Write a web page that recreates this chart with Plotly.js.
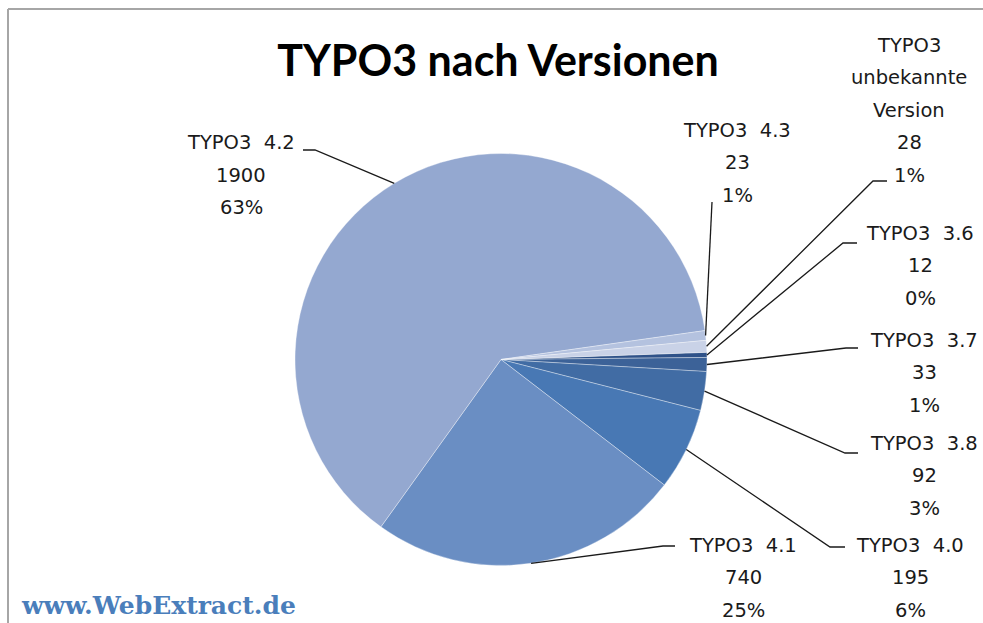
<!DOCTYPE html>
<html>
<head>
<meta charset="utf-8">
<script src="https://cdn.plot.ly/plotly-3.0.1.min.js"></script>
<style>html,body{margin:0;padding:0;background:#fff;} #chart{width:983px;height:623px;}</style>
</head>
<body>
<div id="chart"></div>
<script>
// ---------- DATA ----------
const categories = ['TYPO3 3.6', 'TYPO3 3.7', 'TYPO3 3.8', 'TYPO3 4.0', 'TYPO3 4.1', 'TYPO3 4.2', 'TYPO3 4.3', 'TYPO3 unbekannte Version'];
const values = [12, 33, 92, 195, 740, 1900, 23, 28];
const percentLabels = ['0%', '1%', '3%', '6%', '25%', '63%', '1%', '1%'];
const nameLines = [
  ['TYPO3 3.6'], ['TYPO3 3.7'], ['TYPO3 3.8'], ['TYPO3 4.0'], ['TYPO3 4.1'],
  ['TYPO3 4.2'], ['TYPO3 4.3'], ['TYPO3', 'unbekannte', 'Version']
];
const sliceColors = ['#2F5289', '#3C6298', '#416CA4', '#4878B4', '#6A8EC3', '#94A8D0', '#B4C2DF', '#C9D2E7'];

// ---------- LAYOUT (pixels) ----------
const W = 983, H = 623;
const pieCx = 501, pieCy = 359.5, pieR = 206;
const rotationDeg = 88;
// label centre x, first line centre y
const labelX = [920, 924, 924, 910, 743, 241, 737, 909];
const labelY = [233, 340, 443, 545, 545, 143, 130, 45];
const lineStep = 32.5;
// leader: point at label side, elbow point
const leaderEnd = [[857, 243], [858, 348], [858, 453], [845, 547], [675, 546], [303, 150], [712, 202], [887, 181]];
const leaderElbow = [[843, 243], [846, 348], [845, 453], [830, 547], [663, 546], [315, 150], [712, 202], [873, 181]];

const px2x = p => p / W;
const py2y = p => 1 - p / H;

const total = values.reduce((a, b) => a + b, 0);
const annotations = [];
const shapes = [];
let cum = 0;
values.forEach((v, i) => {
  const midDeg = rotationDeg + (cum + v / 2) / total * 360;
  cum += v;
  const a = midDeg * Math.PI / 180;
  const ex = pieCx + pieR * Math.sin(a);
  const ey = pieCy - pieR * Math.cos(a);
  const lines = nameLines[i].map(s => s.replace(/ (\d)/, '\u00A0 $1')).concat([String(values[i]), percentLabels[i]]);
  lines.forEach((t, k) => {
    annotations.push({
      xref: 'paper', yref: 'paper',
      x: px2x(labelX[i]), y: py2y(labelY[i] + k * lineStep),
      xanchor: 'center', yanchor: 'middle', showarrow: false,
      text: t, font: {family: 'DejaVu Sans', size: 19.5, color: '#1a1a1a'}
    });
  });
  const path = 'M' + px2x(ex) + ',' + py2y(ey) +
    ' L' + px2x(leaderElbow[i][0]) + ',' + py2y(leaderElbow[i][1]) +
    ' L' + px2x(leaderEnd[i][0]) + ',' + py2y(leaderEnd[i][1]);
  shapes.push({type: 'path', xref: 'paper', yref: 'paper', path: path,
    line: {color: '#1a1a1a', width: 1.3}});
});

// watermark
annotations.push({
  xref: 'paper', yref: 'paper', x: px2x(19), y: py2y(605), xanchor: 'left', yanchor: 'middle',
  showarrow: false, text: '<b>www.WebExtract.de</b>',
  font: {family: 'DejaVu Serif', size: 25, color: '#4A7EBB'}
});

// frame
shapes.push({type: 'line', xref: 'paper', yref: 'paper', x0: px2x(8), x1: 1, y0: py2y(9), y1: py2y(9), line: {color: '#A6A6A6', width: 2}});
shapes.push({type: 'line', xref: 'paper', yref: 'paper', x0: px2x(8), x1: px2x(8), y0: py2y(9), y1: 0, line: {color: '#A6A6A6', width: 2}});

const trace = {
  type: 'pie',
  labels: categories,
  values: values,
  sort: false,
  direction: 'clockwise',
  rotation: rotationDeg,
  textinfo: 'none',
  hoverinfo: 'label+value+percent',
  marker: {colors: sliceColors, line: {color: 'rgba(255,255,255,0.35)', width: 1}},
  domain: {x: [px2x(pieCx - pieR), px2x(pieCx + pieR)], y: [py2y(pieCy + pieR), py2y(pieCy - pieR)]},
  showlegend: false
};

const layout = {
  width: W, height: H,
  margin: {l: 0, r: 0, t: 0, b: 0},
  paper_bgcolor: '#ffffff',
  showlegend: false,
  title: {
    text: '<b>TYPO3 nach Versionen</b>',
    x: px2x(498), xanchor: 'center', xref: 'paper',
    y: py2y(61), yanchor: 'middle', yref: 'paper',
    font: {family: 'Lato', size: 43, color: '#000000'}
  },
  annotations: annotations,
  shapes: shapes
};

Plotly.newPlot('chart', [trace], layout, {displayModeBar: false, staticPlot: true});
</script>
</body>
</html>
